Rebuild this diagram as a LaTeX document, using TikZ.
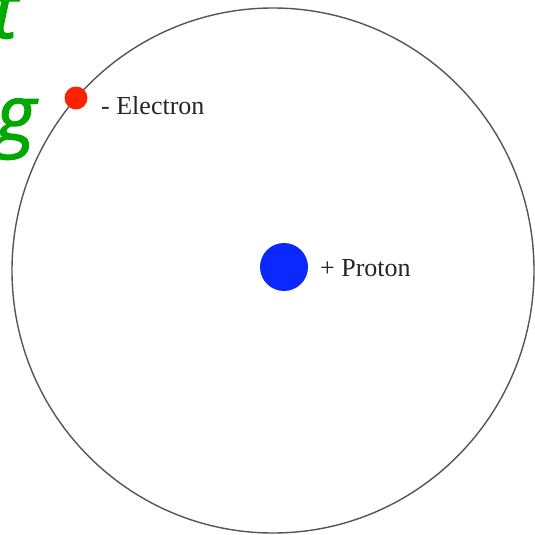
\documentclass[tikz,border=0pt]{standalone}
\usepackage{fontspec}
\setmainfont{Liberation Serif}
\newfontfamily\greenfont[ItalicFeatures={FakeBold=1.6}]{Open Sans}
\definecolor{orbitgray}{RGB}{85,85,85}
\definecolor{elecred}{RGB}{255,34,0}
\definecolor{protblue}{RGB}{10,40,255}
\definecolor{textgreen}{RGB}{0,168,0}
\begin{document}
\begin{tikzpicture}[x=1pt,y=-1pt,
  lbl/.style={anchor=base west,inner sep=0pt,font=\fontsize{26}{28}\selectfont,text=black!85},
  bigg/.style={anchor=base east,inner sep=0pt,text=textgreen,font=\greenfont\itshape\fontsize{78}{80}\selectfont}]
\useasboundingbox (0,0) rectangle (535,535);
\fill[white] (0,0) rectangle (535,535);
\draw[orbitgray,line width=1.4pt] (273,270.5) ellipse [x radius=261, y radius=262.5];
\node[bigg] (tt) at (18,38) {t};
\node[bigg] (gg) at (36,141) {g};
\fill[elecred] (76,98) circle (11.5);
\node[circle,minimum size=0pt,inner sep=0pt] (el) at (76,98) {};
\node[lbl] (ellbl) at (101,114) {- Electron};
\fill[protblue] (284,267) circle (24);
\node[circle,inner sep=0pt] (pr) at (284,267) {};
\node[lbl] (prlbl) at (320,276) {+ Proton};
\end{tikzpicture}
\end{document}
